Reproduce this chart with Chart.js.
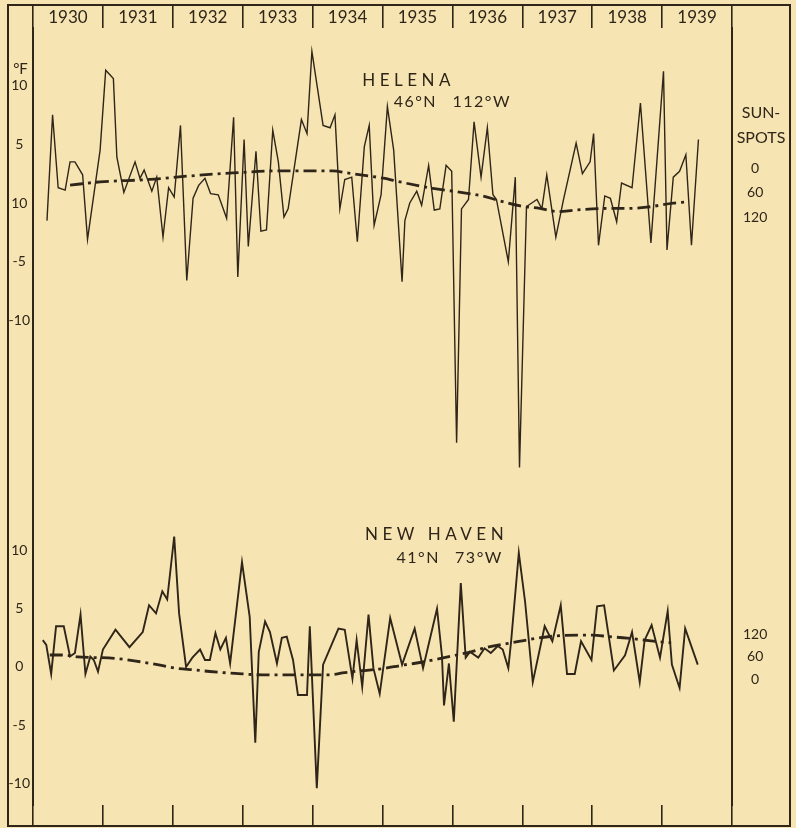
<!DOCTYPE html>
<html>
<head>
<meta charset="utf-8">
<title>Helena and New Haven temperature departures and sunspots, 1930-1939</title>
<script src="https://cdn.jsdelivr.net/npm/chart.js@4.4.1/dist/chart.umd.min.js"></script>
<style>
  html, body { margin: 0; padding: 0; background: #f6e5b3; }
  canvas { display: block; }
</style>
</head>
<body>
<canvas id="sunspotChart" width="796" height="828"></canvas>
<script>
// Year labels across the head of the chart
const yearLabels = ['1930', '1931', '1932', '1933', '1934', '1935', '1936', '1937', '1938', '1939'];
const yearCentres = [1930.5, 1931.5, 1932.5, 1933.5, 1934.5, 1935.5, 1936.5, 1937.5, 1938.5, 1939.5];
const yearBoundaries = [1930, 1931, 1932, 1933, 1934, 1935, 1936, 1937, 1938, 1939, 1940];

// Temperature scales (deg F). The Helena zero line is lettered "10" in the original
const helenaTickValues = [10, 5, 0, -5, -10];
const helenaTickLabels = ['10', '5', '10', '-5', '-10'];
const newHavenTickValues = [10, 5, 0, -5, -10];
const newHavenTickLabels = ['10', '5', '0', '-5', '-10'];

// Sunspot scales on the right
const sunspotTickValues = [0, 60, 120];
const sunspotTickLabels = ['0', '60', '120'];

// Helena, temperature departures (deg F)
const helenaYears = [
  1930.20, 1930.28, 1930.36, 1930.46, 1930.53, 1930.60, 1930.71, 1930.78, 1930.96, 1931.04,
  1931.15, 1931.20, 1931.30, 1931.46, 1931.53, 1931.59, 1931.70, 1931.77, 1931.86, 1931.94,
  1932.02, 1932.11, 1932.20, 1932.29, 1932.37, 1932.46, 1932.54, 1932.65, 1932.77, 1932.87,
  1932.93, 1933.02, 1933.08, 1933.19, 1933.26, 1933.34, 1933.43, 1933.51, 1933.59, 1933.65,
  1933.84, 1933.92, 1933.99, 1934.15, 1934.25, 1934.32, 1934.39, 1934.46, 1934.56, 1934.64,
  1934.74, 1934.81, 1934.88, 1934.98, 1935.07, 1935.16, 1935.28, 1935.32, 1935.39, 1935.49,
  1935.56, 1935.66, 1935.74, 1935.82, 1935.91, 1935.99, 1936.06, 1936.13, 1936.23, 1936.31,
  1936.41, 1936.50, 1936.58, 1936.63, 1936.80, 1936.90, 1936.96, 1937.06, 1937.21, 1937.28,
  1937.35, 1937.48, 1937.59, 1937.77, 1937.86, 1937.97, 1938.02, 1938.09, 1938.18, 1938.26,
  1938.35, 1938.42, 1938.57, 1938.69, 1938.84, 1939.02, 1939.07, 1939.16, 1939.25, 1939.34,
  1939.42, 1939.52
];
const helenaTemps = [
  -1.5, 7.5, 1.3, 1.1, 3.5, 3.5, 2.4, -3.1, 4.5, 11.3,
  10.6, 3.9, 0.9, 3.5, 2.1, 2.8, 1.0, 2.2, -2.9, 1.3,
  0.5, 6.6, -6.6, 0.4, 1.5, 2.1, 0.8, 0.7, -1.3, 7.3,
  -6.3, 5.4, -3.7, 4.4, -2.4, -2.3, 6.2, 3.5, -1.2, -0.5,
  7.1, 5.9, 12.9, 6.6, 6.4, 7.5, -0.5, 2.0, 2.2, -3.3,
  4.8, 6.6, -1.9, 0.7, 8.2, 4.5, -6.7, -1.5, 0.0, 1.0,
  -0.2, 3.2, -0.6, -0.5, 3.2, 2.7, -20.4, -0.5, 0.3, 6.9,
  2.2, 6.4, 0.7, 0.3, -5.0, 2.2, -22.5, -0.3, 0.3, -0.5,
  2.4, -2.9, 0.3, 5.1, 2.5, 3.5, 5.9, -3.6, 0.6, 0.4,
  -1.6, 1.7, 1.3, 8.5, -3.4, 11.2, -4.0, 2.2, 2.7, 4.1,
  -3.6, 5.4
];

// New Haven, temperature departures (deg F)
const newHavenYears = [
  1930.14, 1930.19, 1930.26, 1930.33, 1930.44, 1930.53, 1930.60, 1930.68, 1930.75, 1930.82,
  1930.87, 1930.93, 1931.00, 1931.18, 1931.38, 1931.57, 1931.66, 1931.76, 1931.85, 1931.92,
  1932.02, 1932.09, 1932.19, 1932.28, 1932.39, 1932.46, 1932.53, 1932.61, 1932.68, 1932.76,
  1932.82, 1932.99, 1933.10, 1933.18, 1933.23, 1933.32, 1933.39, 1933.49, 1933.56, 1933.63,
  1933.72, 1933.79, 1933.92, 1933.96, 1934.06, 1934.15, 1934.37, 1934.46, 1934.57, 1934.63,
  1934.71, 1934.80, 1934.87, 1934.96, 1935.11, 1935.28, 1935.46, 1935.58, 1935.78, 1935.85,
  1935.88, 1935.95, 1936.02, 1936.12, 1936.19, 1936.25, 1936.37, 1936.46, 1936.55, 1936.65,
  1936.72, 1936.80, 1936.84, 1936.95, 1937.04, 1937.15, 1937.32, 1937.43, 1937.55, 1937.64,
  1937.75, 1937.84, 1937.99, 1938.07, 1938.17, 1938.31, 1938.47, 1938.57, 1938.68, 1938.75,
  1938.85, 1938.97, 1939.08, 1939.14, 1939.25, 1939.33, 1939.51
];
const newHavenTemps = [
  2.3, 1.9, -0.6, 3.5, 3.5, 0.9, 1.2, 4.5, -0.6, 0.9,
  0.6, -0.4, 1.5, 3.2, 1.7, 3.0, 5.3, 4.6, 6.5, 5.8,
  11.2, 4.6, 0.0, 0.8, 1.5, 0.6, 0.6, 2.9, 1.5, 2.5,
  0.3, 9.0, 4.3, -6.5, 1.3, 3.9, 3.0, 0.3, 2.5, 2.6,
  0.6, -2.4, -2.4, 3.5, -10.4, 0.2, 3.3, 3.2, -1.0, 2.3,
  -1.7, 4.5, -0.1, -2.3, 4.2, 0.2, 3.3, -0.1, 5.0, 1.0,
  -3.3, 0.3, -4.7, 7.2, 0.8, 1.3, 0.8, 1.6, 1.2, 1.8,
  1.5, -0.1, 2.2, 9.8, 5.6, -1.3, 3.5, 2.2, 5.3, -0.6,
  -0.6, 2.2, 0.6, 5.2, 5.3, -0.3, 1.0, 3.0, -1.3, 2.3,
  3.6, 0.8, 4.8, 0.2, -1.8, 3.3, 0.2
];

// Smoothed sunspot numbers, dash-dot curves
const helenaSunspotYears = [
  1930.53, 1930.96, 1931.67, 1932.20, 1932.86, 1933.53, 1934.29, 1934.49, 1935.01, 1935.25,
  1935.72, 1936.06, 1936.47, 1936.63, 1936.97, 1937.25, 1937.52, 1937.75, 1938.25, 1938.52,
  1938.78, 1939.16, 1939.35
];
const helenaSunspots = [
  42, 34, 28, 20, 12, 7, 7, 12, 25, 34,
  50, 58, 70, 78, 93, 99, 107, 103, 99, 99,
  96, 86, 83
];
const newHavenSunspotYears = [
  1930.24, 1930.43, 1930.64, 1931.17, 1931.53, 1931.82, 1932.03, 1932.32, 1932.53, 1932.89,
  1933.29, 1933.77, 1934.22, 1934.46, 1934.70, 1934.98, 1935.29, 1935.47, 1935.73, 1936.06,
  1936.28, 1936.44, 1936.95, 1937.22, 1937.49, 1938.00, 1938.24, 1938.50, 1938.73, 1939.03,
  1939.13
];
const newHavenSunspots = [
  64, 64, 59, 55, 46, 37, 29, 24, 20, 15,
  11, 11, 11, 17, 22, 27, 37, 42, 51, 64,
  73, 82, 100, 109, 115, 117, 113, 109, 104, 98,
  97
];

document.addEventListener('DOMContentLoaded', function() {
    const ink = '#2f2519';
    const paper = '#f6e5b3';
    const face = 'Lato, "DejaVu Sans", sans-serif';

    function toPoints(xs, ys) {
        return xs.map((x, i) => ({ x: x, y: ys[i] }));
    }

    // Paper colour, outer frame and the lettering inside the plot
    const paperPlugin = {
        id: 'paper',
        beforeDraw(chart) {
            const ctx = chart.ctx;
            ctx.save();
            ctx.fillStyle = paper;
            ctx.fillRect(0, 0, chart.width, chart.height);
            ctx.restore();
        },
        afterDraw(chart) {
            const { ctx, scales } = chart;
            const left = scales.yH.left;
            const right = scales.sH.right;
            const top = scales.x.top;
            const bottom = scales.xb.bottom;
            ctx.save();
            ctx.strokeStyle = ink;
            ctx.lineWidth = 2;
            ctx.strokeRect(left, top, right - left, bottom - top);

            ctx.fillStyle = ink;
            ctx.textBaseline = 'middle';

            // station names
            ctx.textAlign = 'left';
            ctx.font = '17px ' + face;
            ctx.letterSpacing = '4.5px';
            ctx.fillText('HELENA', scales.x.getPixelForValue(1934.71), scales.yH.getPixelForValue(10.4));
            ctx.fillText('NEW HAVEN', scales.x.getPixelForValue(1934.75), scales.yN.getPixelForValue(11.4));

            // latitude and longitude, each half centred where it is lettered
            ctx.textAlign = 'center';
            ctx.font = '16px ' + face;
            ctx.letterSpacing = '1.5px';
            ctx.fillText('46°N', scales.x.getPixelForValue(1935.47), scales.yH.getPixelForValue(8.6));
            ctx.fillText('112°W', scales.x.getPixelForValue(1936.42), scales.yH.getPixelForValue(8.6));
            ctx.fillText('41°N', scales.x.getPixelForValue(1935.51), scales.yN.getPixelForValue(9.4));
            ctx.fillText('73°W', scales.x.getPixelForValue(1936.38), scales.yN.getPixelForValue(9.4));

            // axis headings
            ctx.letterSpacing = '0px';
            ctx.font = '15px ' + face;
            ctx.fillText('°F', (scales.yH.left + scales.yH.right) / 2, scales.yH.getPixelForValue(11.4));
            ctx.font = '16px ' + face;
            const spotX = (scales.sH.left + scales.sH.right) / 2;
            ctx.fillText('SUN-', spotX, scales.sH.getPixelForValue(-135));
            ctx.fillText('SPOTS', spotX, scales.sH.getPixelForValue(-74));
            ctx.restore();
        }
    };

    function tempAxis(values, labels, min, max, weight) {
        return {
            type: 'linear',
            position: 'left',
            stack: 'left',
            stackWeight: weight,
            min: min,
            max: max,
            grid: { display: false, drawTicks: false },
            border: { display: true, color: ink, width: 2 },
            ticks: {
                autoSkip: false,
                crossAlign: 'center',
                padding: 3,
                color: ink,
                font: { family: face, size: 14 },
                callback: (value, index) => labels[index]
            },
            afterBuildTicks: scale => { scale.ticks = values.map(v => ({ value: v })); },
            afterFit: scale => { scale.width = 25; }
        };
    }

    function spotAxis(min, max, weight, reverse) {
        return {
            type: 'linear',
            position: 'right',
            stack: 'right',
            stackWeight: weight,
            reverse: reverse,
            min: min,
            max: max,
            grid: { display: false, drawTicks: false },
            border: { display: true, color: ink, width: 2 },
            ticks: {
                autoSkip: false,
                crossAlign: 'center',
                padding: 11,
                color: ink,
                font: { family: face, size: 14 },
                callback: (value, index) => sunspotTickLabels[index]
            },
            afterBuildTicks: scale => { scale.ticks = sunspotTickValues.map(v => ({ value: v })); },
            afterFit: scale => { scale.width = 58; }
        };
    }

    const ctx = document.getElementById('sunspotChart').getContext('2d');
    new Chart(ctx, {
        type: 'line',
        data: {
            datasets: [
                {
                    label: 'Helena',
                    data: toPoints(helenaYears, helenaTemps),
                    xAxisID: 'x',
                    yAxisID: 'yH',
                    borderColor: ink,
                    borderWidth: 1.4,
                    pointRadius: 0,
                    tension: 0,
                    clip: false
                },
                {
                    label: 'New Haven',
                    data: toPoints(newHavenYears, newHavenTemps),
                    xAxisID: 'x',
                    yAxisID: 'yN',
                    borderColor: ink,
                    borderWidth: 1.9,
                    pointRadius: 0,
                    tension: 0,
                    clip: false
                },
                {
                    label: 'Sunspots (Helena panel)',
                    data: toPoints(helenaSunspotYears, helenaSunspots),
                    xAxisID: 'x',
                    yAxisID: 'sH',
                    borderColor: ink,
                    borderWidth: 2.8,
                    borderDash: [13, 5, 3, 5],
                    pointRadius: 0,
                    cubicInterpolationMode: 'monotone',
                    clip: false
                },
                {
                    label: 'Sunspots (New Haven panel)',
                    data: toPoints(newHavenSunspotYears, newHavenSunspots),
                    xAxisID: 'x',
                    yAxisID: 'sN',
                    borderColor: ink,
                    borderWidth: 2.8,
                    borderDash: [13, 5, 3, 5],
                    pointRadius: 0,
                    cubicInterpolationMode: 'monotone',
                    clip: false
                }
            ]
        },
        options: {
            responsive: false,
            animation: false,
            events: [],
            layout: { autoPadding: false, padding: { left: 8, right: 6, top: 5, bottom: 2 } },
            plugins: {
                legend: { display: false },
                tooltip: { enabled: false }
            },
            scales: {
                x: {
                    type: 'linear',
                    position: 'top',
                    min: 1930,
                    max: 1940,
                    border: { display: false },
                    grid: {
                        offset: true,
                        drawOnChartArea: false,
                        drawTicks: true,
                        tickLength: 23,
                        color: ink,
                        lineWidth: 1.6
                    },
                    ticks: {
                        autoSkip: false,
                        maxRotation: 0,
                        padding: -21.5,
                        color: ink,
                        font: { family: face, size: 17, lineHeight: 1 },
                        callback: (value, index) => yearLabels[index]
                    },
                    afterBuildTicks: scale => { scale.ticks = yearCentres.map(v => ({ value: v })); },
                    afterFit: scale => { scale.height = 23; }
                },
                xb: {
                    type: 'linear',
                    position: 'bottom',
                    min: 1930,
                    max: 1940,
                    border: { display: false },
                    grid: {
                        drawOnChartArea: false,
                        drawTicks: true,
                        tickLength: 21,
                        color: ink,
                        lineWidth: 1.6
                    },
                    ticks: { display: false },
                    afterBuildTicks: scale => { scale.ticks = yearBoundaries.map(v => ({ value: v })); },
                    afterFit: scale => { scale.height = 21; }
                },
                // left-hand stacks are laid out last-defined first, so New Haven is listed before Helena
                yN: tempAxis(newHavenTickValues, newHavenTickLabels, -11.85, 16.91, 335),
                yH: tempAxis(helenaTickValues, helenaTickLabels, -22.72, 14.89, 442),
                sH: spotAxis(-342.9, 739.6, 442, true),
                sN: spotAxis(-336, 557.3, 335, false)
            }
        },
        plugins: [paperPlugin]
    });
});
</script>
</body>
</html>
